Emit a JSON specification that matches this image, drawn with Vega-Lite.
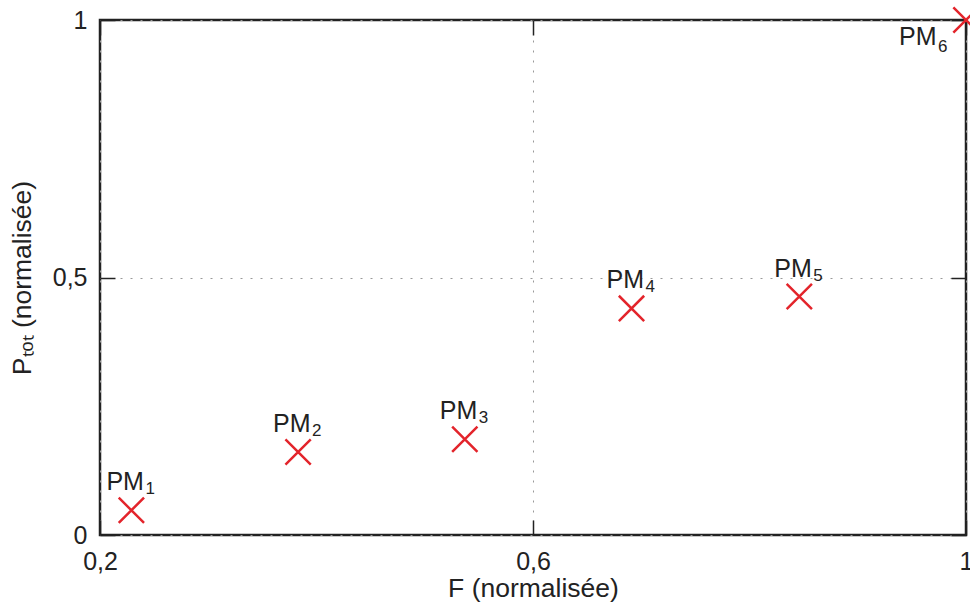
{
  "$schema": "https://vega.github.io/schema/vega-lite/v6.json",
  "autosize": {"type": "none"},
  "padding": {"left": 100, "top": 20, "right": 4, "bottom": 72},
  "width": 866,
  "height": 515,
  "background": "white",
  "config": {
    "view": {"stroke": "#222222", "strokeWidth": 2.5},
    "font": "Liberation Sans",
    "axis": {
      "domain": false,
      "ticks": true,
      "tickColor": "#222222",
      "tickWidth": 1.5,
      "tickSize": -15,
      "labelFont": "Liberation Sans",
      "labelFontSize": 25,
      "labelColor": "#222222",
      "titleFont": "Liberation Sans",
      "titleFontSize": 26.5,
      "titleFontWeight": "normal",
      "titleColor": "#222222",
      "gridColor": "#999999",
      "gridDash": [2, 8],
      "gridWidth": 1,
      "labelFlush": false,
      "labelOverlap": false
    }
  },
  "data": {
    "values": [
      {"F": 0.229, "P": 0.048, "n": "1"},
      {"F": 0.383, "P": 0.161, "n": "2"},
      {"F": 0.537, "P": 0.186, "n": "3"},
      {"F": 0.691, "P": 0.44, "n": "4"},
      {"F": 0.846, "P": 0.463, "n": "5"},
      {"F": 1.0, "P": 1.0, "n": "6"}
    ]
  },
  "layer": [
    {
      "encoding": {
        "x": {
          "field": "F", "type": "quantitative",
          "scale": {"domain": [0.2, 1], "nice": false, "zero": false},
          "axis": {"orient": "bottom", "grid": true, "values": [0.2, 0.6, 1], "labelExpr": "replace(format(datum.value, '.1~f'), '.', ',')", "title": "F (normalisée)", "labelPadding": 29, "titlePadding": 1}
        },
        "y": {
          "field": "P", "type": "quantitative",
          "scale": {"domain": [0, 1], "nice": false},
          "axis": {"orient": "left", "grid": true, "values": [0, 0.5, 1], "labelExpr": "replace(format(datum.value, '.1~f'), '.', ',')", "title": "Pₜₒₜ (normalisée)", "labelPadding": 28, "titlePadding": 16}
        }
      },
      "layer": [
        {
          "mark": {"type": "point", "shape": "M-1,-1L1,1M-1,1L1,-1", "filled": false, "stroke": "#e3242b", "strokeWidth": 2.5, "size": 640, "opacity": 1, "clip": false}
        },
        {
          "transform": [{"filter": "datum.n != '6'"}],
          "mark": {"type": "text", "text": "PM", "align": "left", "baseline": "alphabetic", "dx": -25, "dy": -20, "fontSize": 25, "color": "#222222"}
        },
        {
          "transform": [{"filter": "datum.n != '6'"}],
          "mark": {"type": "text", "align": "left", "baseline": "alphabetic", "dx": 14, "dy": -16, "fontSize": 17, "color": "#222222"},
          "encoding": {"text": {"field": "n"}}
        },
        {
          "transform": [{"filter": "datum.n == '6'"}],
          "mark": {"type": "text", "text": "PM", "align": "left", "baseline": "alphabetic", "dx": -67, "dy": 25, "fontSize": 25, "color": "#222222"}
        },
        {
          "transform": [{"filter": "datum.n == '6'"}],
          "mark": {"type": "text", "align": "left", "baseline": "alphabetic", "dx": -28, "dy": 32, "fontSize": 17, "color": "#222222"},
          "encoding": {"text": {"field": "n"}}
        }
      ]
    },
    {
      "mark": {"type": "point", "opacity": 0},
      "encoding": {
        "x": {"field": "F", "type": "quantitative", "axis": {"orient": "top", "values": [0.2, 0.6, 1], "labels": false, "grid": false, "title": null}},
        "y": {"field": "P", "type": "quantitative", "axis": {"orient": "right", "values": [0, 0.5, 1], "labels": false, "grid": false, "title": null}}
      }
    }
  ],
  "resolve": {"axis": {"x": "independent", "y": "independent"}}
}
